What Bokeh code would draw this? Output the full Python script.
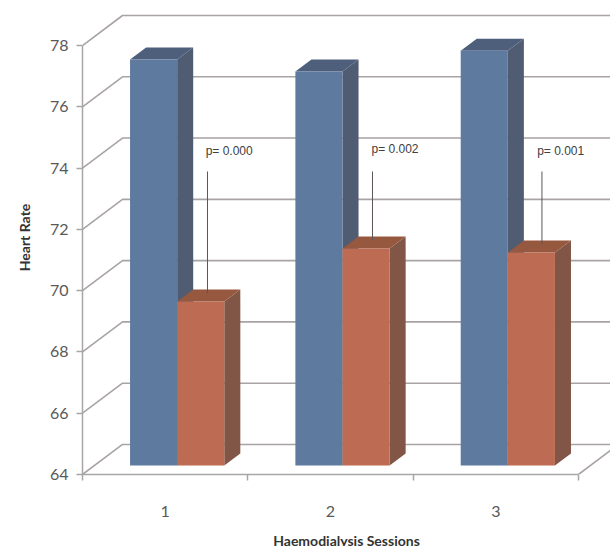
from bokeh.embed import file_html
from bokeh.models import FixedTicker, Range1d
from bokeh.plotting import figure
from bokeh.resources import INLINE
from bokeh.core.properties import value
import numpy as np

# Heart rate per haemodialysis session
sessions = [1, 2, 3]
series_before = [77.25, 76.86, 77.54]
series_after = [69.35, 71.08, 70.95]
p_labels = ["p= 0.000", "p= 0.002", "p= 0.001"]
y_ticks = [64, 66, 68, 70, 72, 74, 76, 78]

# Pseudo-3D geometry, in data units
WALL_DX, WALL_DY = 0.242, 0.98
BAR_DX, BAR_DY = 0.097, 0.39
PLANE_DX, PLANE_DY = 0.0726, 0.294
BAR_W = 0.285
BASE = 64

GRID = "#a9a3a3"
AXIS = "#a6a6a6"
TEXT = "#595959"

p = figure(width=610, height=546, output_backend="svg", toolbar_location=None,
           x_range=Range1d(0.5, 0.5 + 528 / 165.33),
           y_range=Range1d(64, 64 + 474 / 30.64),
           frame_width=528, frame_height=474,
           min_border_left=82, min_border_bottom=72, min_border_top=0, min_border_right=0,
           background_fill_color="white", border_fill_color="white", outline_line_color=None)
p.grid.visible = False

# Axes
xa, ya = p.xaxis[0], p.yaxis[0]
xa.ticker = FixedTicker(ticks=sessions, minor_ticks=[0.5, 1.5, 2.5, 3.5])
xa.bounds = (0.5, 3.5)
xa.major_tick_out = 0
xa.major_tick_in = 0
xa.minor_tick_out = 6
xa.minor_tick_in = 0
xa.major_label_standoff = 25
xa.axis_label = "Haemodialysis Sessions"
xa.axis_label_standoff = 12
ya.ticker = FixedTicker(ticks=y_ticks)
ya.bounds = (64, 78)
ya.major_tick_out = 6
ya.major_tick_in = 0
ya.minor_tick_line_color = None
ya.major_label_standoff = 8
ya.axis_label = "Heart Rate"
ya.axis_label_standoff = 14
for ax in (xa, ya):
    ax.axis_line_color = AXIS
    ax.axis_line_width = 1.5
    ax.major_tick_line_color = AXIS
    ax.major_tick_line_width = 1.5
    ax.minor_tick_line_color = AXIS if ax is xa else None
    ax.minor_tick_line_width = 1.5
    ax.major_label_text_font = "Lato"
    ax.major_label_text_font_size = "16px"
    ax.major_label_text_color = TEXT
    ax.axis_label_text_font = "Lato"
    ax.axis_label_text_font_size = "14px"
    ax.axis_label_text_font_style = "bold"
    ax.axis_label_text_color = "#333333"

# Side-wall and back-wall gridlines
x0, x_end = 0.5, 4.2
xs = [[x0, x0 + WALL_DX, x_end] for _ in y_ticks]
ys = [[t, t + WALL_DY, t + WALL_DY] for t in y_ticks]
p.multi_line(xs, ys, line_color=GRID, line_width=1.6)
# Floor edge on the right
p.line([3.5, 3.5 + WALL_DX], [BASE, BASE + WALL_DY], line_color=GRID, line_width=1.6)


def draw_bars(values, offset, front, side, top):
    centers = np.array(sessions) + PLANE_DX + offset
    left = centers - BAR_W / 2
    right = centers + BAR_W / 2
    tops = np.array(values) + PLANE_DY
    bottom = BASE + PLANE_DY
    side_x = [[r, r + BAR_DX, r + BAR_DX, r] for r in right]
    side_y = [[bottom, bottom + BAR_DY, t + BAR_DY, t] for t in tops]
    top_x = [[l, l + BAR_DX, r + BAR_DX, r] for l, r in zip(left, right)]
    top_y = [[t, t + BAR_DY, t + BAR_DY, t] for t in tops]
    p.patches(side_x, side_y, fill_color=side, line_color=None)
    p.patches(top_x, top_y, fill_color=top, line_color=None)
    p.quad(left=left, right=right, bottom=bottom, top=tops,
           fill_color=front, line_color=None)


draw_bars(series_before, -BAR_W / 2, "#5f7a9f", "#505c72", "#4e5f7c")
draw_bars(series_after, BAR_W / 2, "#bd6b52", "#825647", "#96593f")

# Significance leaders and their labels
leader_x = [1.256, 2.254, 3.279]
leader_top = 73.89
label_x = [1.245, 2.248, 3.25]
label_y = [74.55, 74.62, 74.55]
p.segment(x0=leader_x, x1=leader_x, y0=[leader_top] * 3,
          y1=[v + PLANE_DY + BAR_DY * 0.7 for v in series_after],
          line_color="#5c5656", line_width=1)
p.text(x=label_x, y=label_y, text=p_labels, text_font=value("Liberation Sans"),
       text_font_size="12px", text_color="#404040", text_baseline="middle", text_align="left")

open("out.html", "w").write(file_html(p, INLINE))
